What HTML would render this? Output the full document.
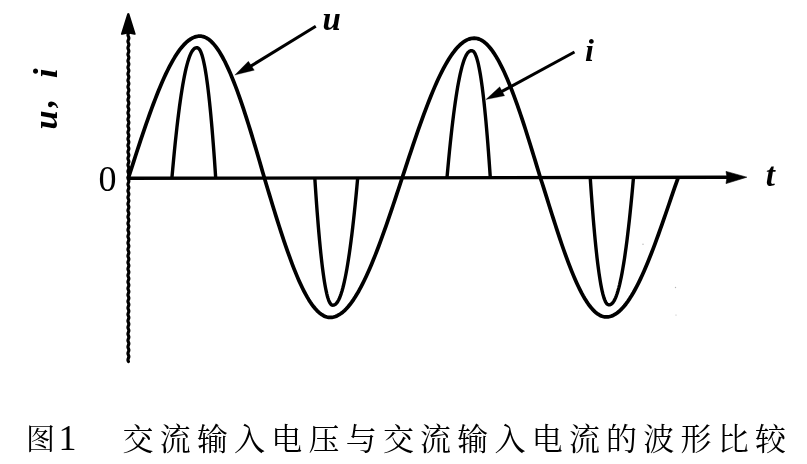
<!DOCTYPE html>
<html lang="zh"><head><meta charset="utf-8"><title>图1 交流输入电压与交流输入电流的波形比较</title>
<style>html,body{margin:0;padding:0;background:#ffffff;}body{width:807px;height:464px;overflow:hidden;font-family:"Liberation Serif",serif;}svg{display:block;}</style>
</head><body>
<svg width="807" height="464" viewBox="0 0 807 464">
<rect width="807" height="464" fill="#ffffff"/>
<defs><filter id="soft" x="0" y="0" width="807" height="464" filterUnits="userSpaceOnUse"><feGaussianBlur stdDeviation="0.38"/></filter></defs>
<g filter="url(#soft)">
<g fill="none" stroke="#000000" stroke-linecap="butt" stroke-linejoin="round">
<path d="M128.4 30 L128.72 30.81 L128.85 31.62 L128.72 32.44 L128.4 33.25 L128.08 34.06 L127.95 34.88 L128.08 35.69 L128.4 36.5 L128.72 37.31 L128.85 38.12 L128.72 38.94 L128.4 39.75 L128.08 40.56 L127.95 41.38 L128.08 42.19 L128.4 43 L128.72 43.81 L128.85 44.62 L128.72 45.44 L128.4 46.25 L128.08 47.06 L127.95 47.88 L128.08 48.69 L128.4 49.5 L128.72 50.31 L128.85 51.12 L128.72 51.94 L128.4 52.75 L128.08 53.56 L127.95 54.38 L128.08 55.19 L128.4 56 L128.72 56.81 L128.85 57.62 L128.72 58.44 L128.4 59.25 L128.08 60.06 L127.95 60.88 L128.08 61.69 L128.4 62.5 L128.72 63.31 L128.85 64.12 L128.72 64.94 L128.4 65.75 L128.08 66.56 L127.95 67.38 L128.08 68.19 L128.4 69 L128.72 69.81 L128.85 70.62 L128.72 71.44 L128.4 72.25 L128.08 73.06 L127.95 73.88 L128.08 74.69 L128.4 75.5 L128.72 76.31 L128.85 77.12 L128.72 77.94 L128.4 78.75 L128.08 79.56 L127.95 80.38 L128.08 81.19 L128.4 82 L128.72 82.81 L128.85 83.62 L128.72 84.44 L128.4 85.25 L128.08 86.06 L127.95 86.88 L128.08 87.69 L128.4 88.5 L128.72 89.31 L128.85 90.12 L128.72 90.94 L128.4 91.75 L128.08 92.56 L127.95 93.38 L128.08 94.19 L128.4 95 L128.72 95.81 L128.85 96.62 L128.72 97.44 L128.4 98.25 L128.08 99.06 L127.95 99.88 L128.08 100.69 L128.4 101.5 L128.72 102.31 L128.85 103.12 L128.72 103.94 L128.4 104.75 L128.08 105.56 L127.95 106.38 L128.08 107.19 L128.4 108 L128.72 108.81 L128.85 109.62 L128.72 110.44 L128.4 111.25 L128.08 112.06 L127.95 112.88 L128.08 113.69 L128.4 114.5 L128.72 115.31 L128.85 116.12 L128.72 116.94 L128.4 117.75 L128.08 118.56 L127.95 119.38 L128.08 120.19 L128.4 121 L128.72 121.81 L128.85 122.62 L128.72 123.44 L128.4 124.25 L128.08 125.06 L127.95 125.88 L128.08 126.69 L128.4 127.5 L128.72 128.31 L128.85 129.12 L128.72 129.94 L128.4 130.75 L128.08 131.56 L127.95 132.38 L128.08 133.19 L128.4 134 L128.72 134.81 L128.85 135.62 L128.72 136.44 L128.4 137.25 L128.08 138.06 L127.95 138.88 L128.08 139.69 L128.4 140.5 L128.72 141.31 L128.85 142.12 L128.72 142.94 L128.4 143.75 L128.08 144.56 L127.95 145.38 L128.08 146.19 L128.4 147 L128.72 147.81 L128.85 148.62 L128.72 149.44 L128.4 150.25 L128.08 151.06 L127.95 151.88 L128.08 152.69 L128.4 153.5 L128.72 154.31 L128.85 155.12 L128.72 155.94 L128.4 156.75 L128.08 157.56 L127.95 158.38 L128.08 159.19 L128.4 160 L128.72 160.81 L128.85 161.62 L128.72 162.44 L128.4 163.25 L128.08 164.06 L127.95 164.88 L128.08 165.69 L128.4 166.5 L128.72 167.31 L128.85 168.12 L128.72 168.94 L128.4 169.75 L128.08 170.56 L127.95 171.38 L128.08 172.19 L128.4 173 L128.72 173.81 L128.85 174.62 L128.72 175.44 L128.4 176.25 L128.08 177.06 L127.95 177.88 L128.08 178.69 L128.4 179.5 L128.72 180.31 L128.85 181.12 L128.72 181.94 L128.4 182.75 L128.08 183.56 L127.95 184.38 L128.08 185.19 L128.4 186 L128.72 186.81 L128.85 187.62 L128.72 188.44 L128.4 189.25 L128.08 190.06 L127.95 190.88 L128.08 191.69 L128.4 192.5 L128.72 193.31 L128.85 194.12 L128.72 194.94 L128.4 195.75 L128.08 196.56 L127.95 197.38 L128.08 198.19 L128.4 199 L128.72 199.81 L128.85 200.62 L128.72 201.44 L128.4 202.25 L128.08 203.06 L127.95 203.88 L128.08 204.69 L128.4 205.5 L128.72 206.31 L128.85 207.12 L128.72 207.94 L128.4 208.75 L128.08 209.56 L127.95 210.38 L128.08 211.19 L128.4 212 L128.72 212.81 L128.85 213.62 L128.72 214.44 L128.4 215.25 L128.08 216.06 L127.95 216.88 L128.08 217.69 L128.4 218.5 L128.72 219.31 L128.85 220.12 L128.72 220.94 L128.4 221.75 L128.08 222.56 L127.95 223.38 L128.08 224.19 L128.4 225 L128.72 225.81 L128.85 226.62 L128.72 227.44 L128.4 228.25 L128.08 229.06 L127.95 229.88 L128.08 230.69 L128.4 231.5 L128.72 232.31 L128.85 233.12 L128.72 233.94 L128.4 234.75 L128.08 235.56 L127.95 236.38 L128.08 237.19 L128.4 238 L128.72 238.81 L128.85 239.62 L128.72 240.44 L128.4 241.25 L128.08 242.06 L127.95 242.88 L128.08 243.69 L128.4 244.5 L128.72 245.31 L128.85 246.12 L128.72 246.94 L128.4 247.75 L128.08 248.56 L127.95 249.38 L128.08 250.19 L128.4 251 L128.72 251.81 L128.85 252.62 L128.72 253.44 L128.4 254.25 L128.08 255.06 L127.95 255.88 L128.08 256.69 L128.4 257.5 L128.72 258.31 L128.85 259.12 L128.72 259.94 L128.4 260.75 L128.08 261.56 L127.95 262.38 L128.08 263.19 L128.4 264 L128.72 264.81 L128.85 265.62 L128.72 266.44 L128.4 267.25 L128.08 268.06 L127.95 268.88 L128.08 269.69 L128.4 270.5 L128.72 271.31 L128.85 272.12 L128.72 272.94 L128.4 273.75 L128.08 274.56 L127.95 275.38 L128.08 276.19 L128.4 277 L128.72 277.81 L128.85 278.62 L128.72 279.44 L128.4 280.25 L128.08 281.06 L127.95 281.88 L128.08 282.69 L128.4 283.5 L128.72 284.31 L128.85 285.12 L128.72 285.94 L128.4 286.75 L128.08 287.56 L127.95 288.38 L128.08 289.19 L128.4 290 L128.72 290.81 L128.85 291.62 L128.72 292.44 L128.4 293.25 L128.08 294.06 L127.95 294.88 L128.08 295.69 L128.4 296.5 L128.72 297.31 L128.85 298.12 L128.72 298.94 L128.4 299.75 L128.08 300.56 L127.95 301.38 L128.08 302.19 L128.4 303 L128.72 303.81 L128.85 304.62 L128.72 305.44 L128.4 306.25 L128.08 307.06 L127.95 307.88 L128.08 308.69 L128.4 309.5 L128.72 310.31 L128.85 311.12 L128.72 311.94 L128.4 312.75 L128.08 313.56 L127.95 314.38 L128.08 315.19 L128.4 316 L128.72 316.81 L128.85 317.62 L128.72 318.44 L128.4 319.25 L128.08 320.06 L127.95 320.88 L128.08 321.69 L128.4 322.5 L128.72 323.31 L128.85 324.12 L128.72 324.94 L128.4 325.75 L128.08 326.56 L127.95 327.38 L128.08 328.19 L128.4 329 L128.72 329.81 L128.85 330.62 L128.72 331.44 L128.4 332.25 L128.08 333.06 L127.95 333.88 L128.08 334.69 L128.4 335.5 L128.72 336.31 L128.85 337.12 L128.72 337.94 L128.4 338.75 L128.08 339.56 L127.95 340.38 L128.08 341.19 L128.4 342 L128.72 342.81 L128.85 343.62 L128.72 344.44 L128.4 345.25 L128.08 346.06 L127.95 346.88 L128.08 347.69 L128.4 348.5 L128.72 349.31 L128.85 350.12 L128.72 350.94 L128.4 351.75 L128.08 352.56 L127.95 353.38 L128.08 354.19 L128.4 355 L128.72 355.81 L128.85 356.62 L128.72 357.44 L128.4 358.25 L128.08 359.06 L127.95 359.88 L128.08 360.69 L128.4 361.5" stroke-width="3.1999999999999997" stroke-linecap="round"/>
<path d="M127.4 178.25 L728 177.23" stroke-width="3.3"/>
<path d="M128.3 178.25 L130.09 172.67 L131.88 167.1 L133.67 161.55 L135.46 156.02 L137.24 150.53 L139.03 145.08 L140.82 139.68 L142.61 134.34 L144.4 129.07 L146.19 123.88 L147.98 118.77 L149.77 113.75 L151.55 108.83 L153.34 104.01 L155.13 99.31 L156.92 94.74 L158.71 90.29 L160.5 85.97 L162.29 81.8 L164.07 77.78 L165.86 73.91 L167.65 70.2 L169.44 66.66 L171.23 63.3 L173.02 60.1 L174.81 57.1 L176.6 54.27 L178.38 51.64 L180.17 49.2 L181.96 46.97 L183.75 44.93 L185.54 43.1 L187.33 41.48 L189.12 40.07 L190.91 38.87 L192.69 37.89 L194.48 37.12 L196.27 36.57 L198.06 36.24 L199.85 36.13 L201.46 36.23 L203.08 36.56 L204.69 37.1 L206.31 37.87 L207.92 38.84 L209.53 40.03 L211.15 41.44 L212.76 43.06 L214.37 44.88 L215.99 46.91 L217.6 49.14 L219.22 51.57 L220.83 54.2 L222.44 57.01 L224.06 60.02 L225.67 63.2 L227.28 66.57 L228.9 70.1 L230.51 73.8 L232.12 77.66 L233.74 81.68 L235.35 85.85 L236.97 90.15 L238.58 94.6 L240.19 99.17 L241.81 103.86 L243.42 108.67 L245.03 113.58 L246.65 118.6 L248.26 123.7 L249.88 128.89 L251.49 134.16 L253.1 139.49 L254.72 144.89 L256.33 150.33 L257.94 155.82 L259.56 161.34 L261.17 166.88 L262.79 172.45 L264.4 178.02 L266.04 183.49 L267.69 188.96 L269.33 194.41 L270.97 199.83 L272.61 205.22 L274.25 210.57 L275.9 215.86 L277.54 221.1 L279.18 226.28 L280.82 231.37 L282.47 236.39 L284.11 241.32 L285.75 246.14 L287.39 250.87 L289.04 255.48 L290.68 259.97 L292.32 264.33 L293.96 268.57 L295.61 272.66 L297.25 276.6 L298.89 280.4 L300.53 284.03 L302.18 287.51 L303.82 290.81 L305.46 293.94 L307.1 296.89 L308.75 299.66 L310.39 302.24 L312.03 304.62 L313.67 306.82 L315.32 308.81 L316.96 310.6 L318.6 312.19 L320.24 313.57 L321.89 314.74 L323.53 315.7 L325.17 316.45 L326.81 316.98 L328.46 317.3 L330.1 317.41 L331.9 317.3 L333.7 316.97 L335.51 316.43 L337.31 315.68 L339.11 314.71 L340.91 313.53 L342.72 312.15 L344.52 310.55 L346.32 308.76 L348.12 306.76 L349.93 304.56 L351.73 302.17 L353.53 299.58 L355.33 296.81 L357.14 293.85 L358.94 290.72 L360.74 287.41 L362.54 283.93 L364.35 280.29 L366.15 276.49 L367.95 272.53 L369.75 268.44 L371.56 264.2 L373.36 259.83 L375.16 255.33 L376.96 250.72 L378.77 245.99 L380.57 241.15 L382.37 236.22 L384.17 231.2 L385.98 226.09 L387.78 220.92 L389.58 215.67 L391.38 210.37 L393.19 205.01 L394.99 199.62 L396.79 194.19 L398.59 188.74 L400.4 183.26 L402.2 177.78 L404 172.3 L405.8 166.83 L407.6 161.38 L409.4 155.95 L411.21 150.55 L413.01 145.2 L414.81 139.9 L416.61 134.65 L418.41 129.47 L420.21 124.37 L422.01 119.35 L423.81 114.42 L425.62 109.58 L427.42 104.85 L429.22 100.24 L431.02 95.74 L432.82 91.37 L434.62 87.13 L436.42 83.03 L438.23 79.08 L440.03 75.28 L441.83 71.64 L443.63 68.16 L445.43 64.85 L447.23 61.72 L449.03 58.76 L450.83 55.99 L452.63 53.4 L454.44 51.01 L456.24 48.81 L458.04 46.81 L459.84 45.01 L461.64 43.42 L463.44 42.03 L465.24 40.86 L467.05 39.89 L468.85 39.14 L470.65 38.6 L472.45 38.27 L474.25 38.16 L475.9 38.27 L477.55 38.59 L479.2 39.12 L480.86 39.87 L482.51 40.83 L484.16 42 L485.81 43.38 L487.46 44.97 L489.11 46.76 L490.76 48.75 L492.41 50.94 L494.06 53.33 L495.72 55.91 L497.37 58.68 L499.02 61.63 L500.67 64.76 L502.32 68.06 L503.97 71.53 L505.62 75.17 L507.27 78.96 L508.93 82.91 L510.58 87 L512.23 91.23 L513.88 95.6 L515.53 100.09 L517.18 104.7 L518.83 109.42 L520.49 114.25 L522.14 119.18 L523.79 124.19 L525.44 129.29 L527.09 134.46 L528.74 139.7 L530.39 145 L532.04 150.35 L533.69 155.74 L535.35 161.16 L537 166.61 L538.65 172.08 L540.3 177.55 L541.95 182.52 L543.6 187.68 L545.25 192.92 L546.9 198.18 L548.55 203.45 L550.2 208.71 L551.85 213.94 L553.5 219.14 L555.15 224.29 L556.8 229.39 L558.45 234.42 L560.1 239.36 L561.75 244.23 L563.4 248.99 L565.05 253.65 L566.7 258.2 L568.35 262.63 L570 266.93 L571.65 271.09 L573.3 275.11 L574.95 278.98 L576.6 282.7 L578.25 286.24 L579.9 289.62 L581.55 292.83 L583.2 295.85 L584.85 298.69 L586.5 301.34 L588.15 303.79 L589.8 306.04 L591.45 308.09 L593.1 309.93 L594.75 311.56 L596.4 312.99 L598.05 314.19 L599.7 315.18 L601.35 315.95 L603 316.5 L604.65 316.83 L606.3 316.94 L608.1 316.82 L609.9 316.49 L611.7 315.93 L613.5 315.16 L615.3 314.16 L617.1 312.95 L618.9 311.52 L620.7 309.89 L622.5 308.04 L624.3 305.98 L626.1 303.72 L627.9 301.27 L629.7 298.61 L631.5 295.77 L633.3 292.74 L635.1 289.53 L636.9 286.15 L638.7 282.59 L640.5 278.87 L642.3 275 L644.1 270.97 L645.9 266.8 L647.7 262.5 L649.5 258.06 L651.3 253.51 L653.1 248.84 L654.9 244.07 L656.7 239.2 L658.5 234.25 L660.3 229.21 L662.1 224.11 L663.9 218.95 L665.7 213.75 L667.5 208.51 L669.3 203.24 L671.1 197.97 L672.9 192.7 L674.7 187.46 L676.5 182.29 L678.3 177.31" stroke-width="3.75"/>
<path d="M171.9 178.18 L172.73 168.8 L173.57 159.81 L174.4 151.19 L175.23 142.95 L176.07 135.08 L176.9 127.58 L177.73 120.44 L178.57 113.67 L179.4 107.26 L180.23 101.2 L181.07 95.5 L181.9 90.14 L182.73 85.13 L183.57 80.47 L184.4 76.13 L185.23 72.14 L186.07 68.47 L186.9 65.12 L187.73 62.09 L188.57 59.38 L189.4 56.97 L190.23 54.86 L191.07 53.05 L191.9 51.52 L192.73 50.27 L193.57 49.29 L194.4 48.56 L195.23 48.07 L196.07 47.81 L196.9 47.73 L197.53 47.81 L198.15 48.07 L198.78 48.55 L199.41 49.28 L200.03 50.26 L200.66 51.51 L201.29 53.03 L201.91 54.84 L202.54 56.95 L203.17 59.35 L203.79 62.07 L204.42 65.09 L205.05 68.43 L205.67 72.1 L206.3 76.1 L206.93 80.43 L207.55 85.09 L208.18 90.1 L208.81 95.45 L209.43 101.15 L210.06 107.21 L210.69 113.62 L211.31 120.39 L211.94 127.52 L212.57 135.02 L213.19 142.89 L213.82 151.13 L214.45 159.74 L215.07 168.73 L215.7 178.1" stroke-width="3.4"/>
<path d="M314.8 177.93 L315.4 187.08 L316 195.86 L316.6 204.27 L317.2 212.31 L317.8 219.99 L318.4 227.31 L319 234.27 L319.6 240.88 L320.2 247.14 L320.8 253.05 L321.4 258.62 L322 263.84 L322.6 268.73 L323.2 273.29 L323.8 277.51 L324.4 281.41 L325 284.99 L325.6 288.26 L326.2 291.21 L326.8 293.86 L327.4 296.21 L328 298.26 L328.6 300.03 L329.2 301.52 L329.8 302.74 L330.4 303.69 L331 304.4 L331.6 304.87 L332.2 305.13 L332.8 305.2 L333.63 305.13 L334.46 304.87 L335.29 304.39 L336.12 303.68 L336.95 302.72 L337.78 301.5 L338.61 300.01 L339.44 298.24 L340.27 296.18 L341.1 293.83 L341.93 291.18 L342.76 288.23 L343.59 284.96 L344.42 281.38 L345.25 277.48 L346.08 273.25 L346.91 268.69 L347.74 263.8 L348.57 258.57 L349.4 253 L350.23 247.09 L351.06 240.83 L351.89 234.22 L352.72 227.25 L353.55 219.93 L354.38 212.25 L355.21 204.2 L356.04 195.79 L356.87 187.01 L357.7 177.86" stroke-width="3.4"/>
<path d="M447 177.71 L447.82 168.58 L448.64 159.82 L449.46 151.43 L450.28 143.4 L451.1 135.74 L451.92 128.43 L452.74 121.48 L453.56 114.89 L454.38 108.64 L455.2 102.74 L456.02 97.19 L456.84 91.97 L457.66 87.09 L458.48 82.54 L459.3 78.33 L460.12 74.43 L460.94 70.86 L461.76 67.6 L462.58 64.65 L463.4 62.01 L464.22 59.66 L465.04 57.61 L465.86 55.84 L466.68 54.36 L467.5 53.14 L468.32 52.18 L469.14 51.47 L469.96 51 L470.78 50.74 L471.6 50.67 L472.22 50.74 L472.85 50.99 L473.47 51.46 L474.09 52.17 L474.72 53.13 L475.34 54.34 L475.96 55.83 L476.59 57.59 L477.21 59.64 L477.83 61.98 L478.46 64.62 L479.08 67.57 L479.7 70.83 L480.33 74.4 L480.95 78.29 L481.57 82.51 L482.2 87.05 L482.82 91.93 L483.44 97.14 L484.07 102.69 L484.69 108.59 L485.31 114.83 L485.94 121.43 L486.56 128.37 L487.18 135.68 L487.81 143.34 L488.43 151.36 L489.05 159.75 L489.68 168.51 L490.3 177.63" stroke-width="3.4"/>
<path d="M590.2 177.46 L590.83 186.62 L591.45 195.4 L592.08 203.82 L592.71 211.87 L593.33 219.55 L593.96 226.88 L594.59 233.85 L595.21 240.46 L595.84 246.73 L596.47 252.64 L597.09 258.21 L597.72 263.44 L598.35 268.33 L598.97 272.89 L599.6 277.12 L600.23 281.02 L600.85 284.61 L601.48 287.87 L602.11 290.83 L602.73 293.48 L603.36 295.83 L603.99 297.89 L604.61 299.66 L605.24 301.15 L605.87 302.36 L606.49 303.32 L607.12 304.03 L607.75 304.5 L608.37 304.76 L609 304.83 L609.82 304.76 L610.63 304.5 L611.45 304.02 L612.27 303.31 L613.08 302.35 L613.9 301.13 L614.72 299.64 L615.53 297.87 L616.35 295.81 L617.17 293.46 L617.98 290.8 L618.8 287.84 L619.62 284.58 L620.43 280.99 L621.25 277.08 L622.07 272.85 L622.88 268.29 L623.7 263.4 L624.52 258.17 L625.33 252.59 L626.15 246.68 L626.97 240.41 L627.78 233.79 L628.6 226.82 L629.42 219.49 L630.23 211.8 L631.05 203.75 L631.87 195.33 L632.68 186.55 L633.5 177.39" stroke-width="3.4"/>
<path d="M315.8 26.3 L250 66.6" stroke-width="3"/>
<path d="M574.5 52 L501 91.9" stroke-width="3"/>
</g>
<g fill="#000000">
<path d="M127.3 13.6 Q128.4 12.4 129.3 13.6 L135.7 33.9 Q135.5 35.2 134.2 34.7 L128.4 33.6 L122.4 34.7 Q121.1 35.2 120.9 33.9 Z"/>
<path d="M746.8 177.20000000000002 L726 171.4 L727 177.20000000000002 L726 183.6 Z" stroke="#000000" stroke-width="0.6" stroke-linejoin="round"/>
<path d="M234.8 75.1 L248.4 61.3 L254.3 70.2 Z" stroke="#000000" stroke-width="0.3" stroke-linejoin="round"/>
<path d="M485.9 99.5 L499.7 86.8 L504.6 95.8 Z" stroke="#000000" stroke-width="0.3" stroke-linejoin="round"/>
<g fill="#000000" font-family="'Liberation Serif', 'Noto Serif CJK SC', serif">
<text x="26" y="450" font-size="29">图</text>
<text x="67.5" y="450" font-size="36" text-anchor="middle">1</text>
<text y="450" font-size="31" x="122.5 159.7 196.9 234.1 271.3 308.5 345.7 382.9 420.1 457.3 494.5 531.7 568.9 606.1 643.3 680.5 717.7 754.9">交流输入电压与交流输入电流的波形比较</text>
</g>
</g>
<g fill="#000000" font-family="'Liberation Serif', serif">
<text x="98.6" y="191" font-size="36">0</text>
<g font-style="italic" font-weight="bold">
<text x="322.6" y="29.5" font-size="33">u</text>
<text x="584.9" y="61.3" font-size="32">i</text>
<text x="765.8" y="185.6" font-size="33">t</text>
<text transform="translate(57 128.3) rotate(-90)" font-size="34.5"><tspan x="-1.3">u</tspan><tspan x="21" dy="-4.2">,</tspan><tspan x="50.4" dy="4.2">i</tspan></text>
</g>
</g>
<g fill="#b5b5b5"><circle cx="643" cy="244.3" r="0.7"/><circle cx="675.5" cy="287.5" r="0.7"/><circle cx="676" cy="315" r="0.6"/></g>
</g>
</svg>
</body></html>
